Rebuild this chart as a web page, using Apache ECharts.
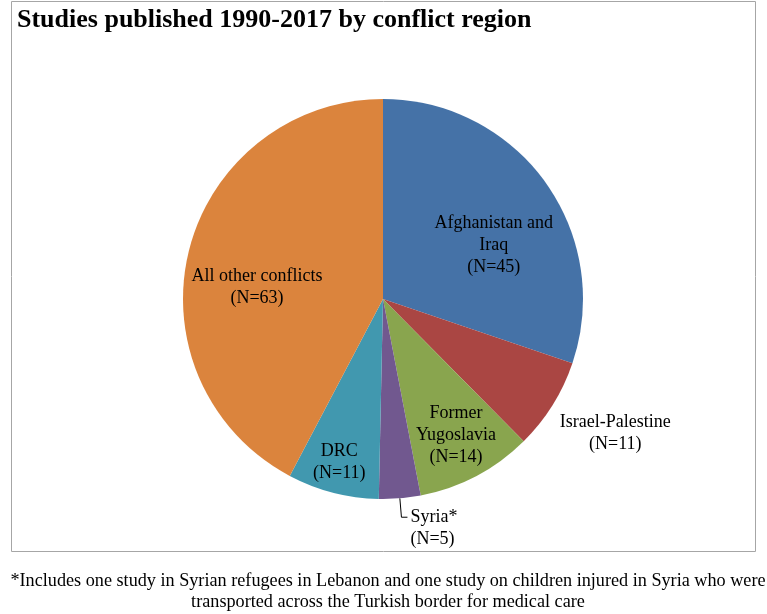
<!DOCTYPE html>
<html>
<head>
<meta charset="utf-8">
<script src="https://cdn.jsdelivr.net/npm/echarts@6/dist/echarts.min.js"></script>
<style>
html,body{margin:0;padding:0;background:#fff;}
#chart{width:767px;height:614px;}
</style>
</head>
<body>
<div id="chart"></div>
<script>
const categories = ["Afghanistan and\nIraq", "Israel-Palestine", "Former\nYugoslavia", "Syria*", "DRC", "All other conflicts"];
const counts = [45, 11, 14, 5, 11, 63];
const colors = ["#4572A7", "#AA4643", "#89A54E", "#71588F", "#4198AF", "#DB843D"];
const titleText = "Studies published 1990-2017 by conflict region";
const footnoteText = "*Includes one study in Syrian refugees in Lebanon and one study on children injured in Syria who were\ntransported across the Turkish border for medical care";

const labelOffsets = [[27, 6], [145, 80], [25, 45], null, [-18, 64], [-26, 13]];
const font = "'Liberation Serif', 'Times New Roman', serif";

const data = categories.map((c, i) => {
  const item = {
    name: c,
    value: counts[i],
    itemStyle: { color: colors[i] }
  };
  if (labelOffsets[i]) {
    item.label = { position: 'inside', offset: labelOffsets[i] };
    item.labelLine = { show: false };
  } else {
    item.label = {
      position: 'outside',
      align: 'left',
      formatter: p => '\n' + p.name + '\n(N=' + p.value + ')',
      distanceToLabelLine: 3
    };
    item.labelLine = {
      show: true, length: 19, length2: 6, smooth: false,
      lineStyle: { color: '#000', width: 1 }
    };
  }
  return item;
});

const chart = echarts.init(document.getElementById('chart'), null, { renderer: 'canvas' });
chart.setOption({
  animation: false,
  backgroundColor: '#fff',
  title: [
    {
      text: titleText,
      left: 12, top: 2,
      textStyle: { fontFamily: font, fontWeight: 'bold', fontSize: 26, color: '#000' }
    },
    {
      text: footnoteText,
      left: 383, top: 566,
      textAlign: 'center',
      textStyle: { fontFamily: font, fontWeight: 'normal', fontSize: 18.2, lineHeight: 21, color: '#000', align: 'center' }
    }
  ],
  graphic: [
    {
      type: 'rect', z: -1, silent: true,
      shape: { x: 11.5, y: 1.5, width: 744, height: 550 },
      style: { fill: 'none', stroke: '#a6a6a6', lineWidth: 1 }
    }
  ],
  series: [{
    type: 'pie',
    center: [383, 299],
    radius: [0, 200],
    startAngle: 90,
    clockwise: true,
    avoidLabelOverlap: false,
    label: {
      show: true,
      formatter: p => p.name + '\n(N=' + p.value + ')',
      fontFamily: font,
      fontSize: 18,
      lineHeight: 22,
      color: '#000',
      align: 'center'
    },
    itemStyle: { borderWidth: 0 },
    emphasis: { disabled: true },
    data: data
  }]
});
</script>
</body>
</html>
